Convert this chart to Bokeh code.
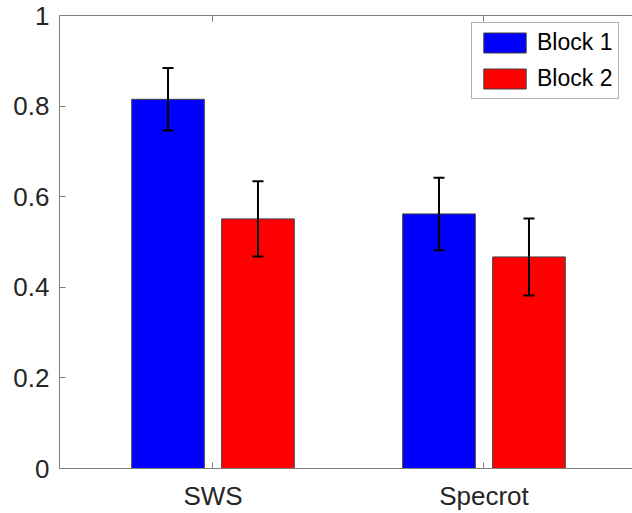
from bokeh.plotting import figure
from bokeh.models import (ColumnDataSource, Whisker, TeeHead, LinearAxis, FixedTicker,
                          Range1d, Legend, LegendItem)
from bokeh.embed import file_html
from bokeh.resources import INLINE

categories = ["SWS", "Specrot"]
block1 = [0.815, 0.562]
block1_err = [0.069, 0.080]
block2 = [0.551, 0.467]
block2_err = [0.083, 0.085]
series_names = ["Block 1", "Block 2"]
series_colors = ["#0000ff", "#ff0000"]
y_ticks = [0, 0.2, 0.4, 0.6, 0.8, 1]
y_tick_labels = ["0", "0.2", "0.4", "0.6", "0.8", "1"]

FONT = "Liberation Sans"
AX = "#808080"
TXT = "#262626"

cat_x = [i + 1 for i in range(len(categories))]
offset = 0.166
bar_w = 0.268

p = figure(width=632, height=513, output_backend="svg", toolbar_location=None,
           x_range=Range1d(0.4336, 2.548), y_range=Range1d(0, 1),
           min_border_left=59, min_border_right=0, min_border_top=15, min_border_bottom=44,
           x_axis_location=None, y_axis_location=None)
p.outline_line_color = None
p.xgrid.visible = False
p.ygrid.visible = False
p.background_fill_color = "white"
p.border_fill_color = "white"

renderers = []
whiskers = []
for k, (vals, errs) in enumerate([(block1, block1_err), (block2, block2_err)]):
    xs = [c + (-offset if k == 0 else offset) for c in cat_x]
    src = ColumnDataSource(dict(x=xs, top=vals,
                                upper=[v + e for v, e in zip(vals, errs)],
                                lower=[v - e for v, e in zip(vals, errs)]))
    r = p.vbar(x="x", top="top", bottom=0, width=bar_w, source=src,
               fill_color=series_colors[k], line_color="#404040", line_width=1)
    renderers.append(r)
    w = Whisker(base="x", upper="upper", lower="lower", source=src,
                line_color="black", line_width=2, level="overlay",
                upper_head=TeeHead(size=11, line_color="black", line_width=2),
                lower_head=TeeHead(size=11, line_color="black", line_width=2))
    whiskers.append(w)
for w in whiskers:
    p.add_layout(w)

def style_axis(ax):
    ax.axis_line_color = AX
    ax.axis_line_width = 1
    ax.major_tick_line_color = AX
    ax.major_tick_in = 6
    ax.major_tick_out = 0
    ax.minor_tick_line_color = None
    ax.major_label_text_font = FONT
    ax.major_label_text_color = TXT
    ax.major_label_text_font_size = "26px"

left = LinearAxis(ticker=FixedTicker(ticks=y_ticks),
                  major_label_overrides={t: l for t, l in zip(y_ticks, y_tick_labels)})
style_axis(left)
left.major_label_standoff = 10
p.add_layout(left, "left")

bottom = LinearAxis(ticker=FixedTicker(ticks=cat_x),
                    major_label_overrides={x: c for x, c in zip(cat_x, categories)})
style_axis(bottom)
bottom.major_label_standoff = 12
p.add_layout(bottom, "below")

# top box edge with inward ticks, no labels
top = LinearAxis(ticker=FixedTicker(ticks=cat_x), major_label_overrides={x: "" for x in cat_x})
style_axis(top)
top.major_label_text_font_size = "1px"
top.major_label_text_color = None
top.major_label_standoff = 0
p.add_layout(top, "above")

legend = Legend(items=[LegendItem(label=n, renderers=[r]) for n, r in zip(series_names, renderers)],
                location=(412, 369))
legend.label_text_font = FONT
legend.label_text_font_size = "23px"
legend.label_text_color = "black"
legend.glyph_width = 53
legend.glyph_height = 25
legend.label_height = 25
legend.label_standoff = 6
legend.spacing = 9
legend.padding = 6
legend.margin = 0
legend.border_line_color = "#666666"
legend.border_line_width = 1
legend.background_fill_color = "white"
p.add_layout(legend, "center")

open("out.html", "w").write(file_html(p, INLINE))
